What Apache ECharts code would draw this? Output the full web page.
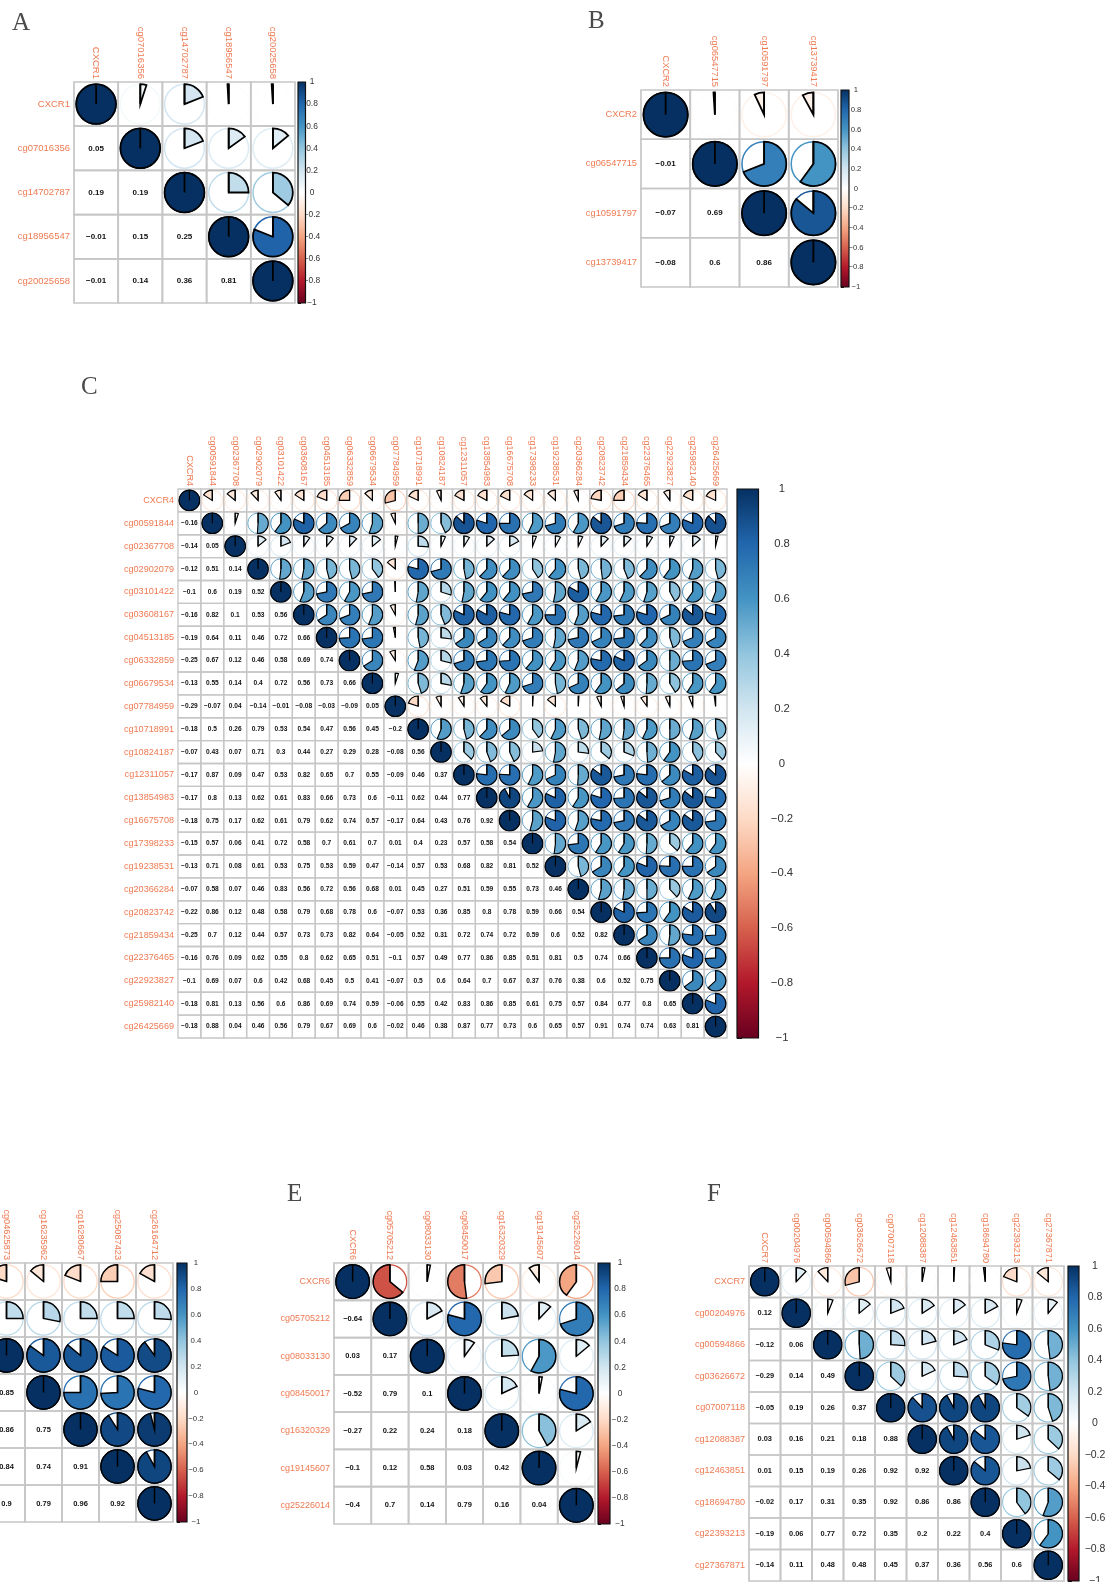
<!DOCTYPE html>
<html>
<head>
<meta charset="utf-8">
<script src="https://cdn.jsdelivr.net/npm/echarts@6/dist/echarts.min.js"></script>
<style>
  html, body { margin: 0; padding: 0; background: #ffffff; }
  #chart { width: 1107px; height: 1582px; }
</style>
</head>
<body>
<div id="chart"></div>
<script>
// ---- correlation data: variable names + lower-triangle coefficients (row i holds columns 0..i-1)

// A: CXCR1
const varsA = ['CXCR1', 'cg07016356', 'cg14702787', 'cg18956547', 'cg20025658'];
const lowerA = [
  [0.05],
  [0.19, 0.19],
  [-0.01, 0.15, 0.25],
  [-0.01, 0.14, 0.36, 0.81]
];

// B: CXCR2
const varsB = ['CXCR2', 'cg06547715', 'cg10591797', 'cg13739417'];
const lowerB = [
  [-0.01],
  [-0.07, 0.69],
  [-0.08, 0.6, 0.86]
];

// C: CXCR4
const varsC = ['CXCR4', 'cg00591844', 'cg02367708', 'cg02902079', 'cg03101422', 'cg03608167',
  'cg04513185', 'cg06332859', 'cg06679534', 'cg07784959', 'cg10718991', 'cg10824187',
  'cg12311057', 'cg13854983', 'cg16675708', 'cg17398233', 'cg19238531', 'cg20366284',
  'cg20823742', 'cg21859434', 'cg22376465', 'cg22923827', 'cg25982140', 'cg26425669'];
const lowerC = [
  [-0.16],
  [-0.14, 0.05],
  [-0.12, 0.51, 0.14],
  [-0.1, 0.6, 0.19, 0.52],
  [-0.16, 0.82, 0.1, 0.53, 0.56],
  [-0.19, 0.64, 0.11, 0.46, 0.72, 0.66],
  [-0.25, 0.67, 0.12, 0.46, 0.58, 0.69, 0.74],
  [-0.13, 0.55, 0.14, 0.4, 0.72, 0.56, 0.73, 0.66],
  [-0.29, -0.07, 0.04, -0.14, -0.01, -0.08, -0.03, -0.09, 0.05],
  [-0.18, 0.5, 0.26, 0.79, 0.53, 0.54, 0.47, 0.56, 0.45, -0.2],
  [-0.07, 0.43, 0.07, 0.71, 0.3, 0.44, 0.27, 0.29, 0.28, -0.08, 0.56],
  [-0.17, 0.87, 0.09, 0.47, 0.53, 0.82, 0.65, 0.7, 0.55, -0.09, 0.46, 0.37],
  [-0.17, 0.8, 0.13, 0.62, 0.61, 0.83, 0.66, 0.73, 0.6, -0.11, 0.62, 0.44, 0.77],
  [-0.18, 0.75, 0.17, 0.62, 0.61, 0.79, 0.62, 0.74, 0.57, -0.17, 0.64, 0.43, 0.76, 0.92],
  [-0.15, 0.57, 0.06, 0.41, 0.72, 0.58, 0.7, 0.61, 0.7, 0.01, 0.4, 0.23, 0.57, 0.58, 0.54],
  [-0.13, 0.71, 0.08, 0.61, 0.53, 0.75, 0.53, 0.59, 0.47, -0.14, 0.57, 0.53, 0.68, 0.82, 0.81, 0.52],
  [-0.07, 0.58, 0.07, 0.46, 0.83, 0.56, 0.72, 0.56, 0.68, 0.01, 0.45, 0.27, 0.51, 0.59, 0.55, 0.73, 0.46],
  [-0.22, 0.86, 0.12, 0.48, 0.58, 0.79, 0.68, 0.78, 0.6, -0.07, 0.53, 0.36, 0.85, 0.8, 0.78, 0.59, 0.66, 0.54],
  [-0.25, 0.7, 0.12, 0.44, 0.57, 0.73, 0.73, 0.82, 0.64, -0.05, 0.52, 0.31, 0.72, 0.74, 0.72, 0.59, 0.6, 0.52, 0.82],
  [-0.16, 0.76, 0.09, 0.62, 0.55, 0.8, 0.62, 0.65, 0.51, -0.1, 0.57, 0.49, 0.77, 0.86, 0.85, 0.51, 0.81, 0.5, 0.74, 0.66],
  [-0.1, 0.69, 0.07, 0.6, 0.42, 0.68, 0.45, 0.5, 0.41, -0.07, 0.5, 0.6, 0.64, 0.7, 0.67, 0.37, 0.76, 0.38, 0.6, 0.52, 0.75],
  [-0.18, 0.81, 0.13, 0.56, 0.6, 0.86, 0.69, 0.74, 0.59, -0.06, 0.55, 0.42, 0.83, 0.86, 0.85, 0.61, 0.75, 0.57, 0.84, 0.77, 0.8, 0.65],
  [-0.18, 0.88, 0.04, 0.46, 0.56, 0.79, 0.67, 0.69, 0.6, -0.02, 0.46, 0.38, 0.87, 0.77, 0.73, 0.6, 0.65, 0.57, 0.91, 0.74, 0.74, 0.63, 0.81]
];

// D: CXCR5
const varsD = ['CXCR5', 'cg10151590', 'cg04625873', 'cg16235962', 'cg16280667', 'cg25087423', 'cg26164712'];
const lowerD = [
  [0.1],
  [-0.2, 0.25],
  [-0.14, 0.28, 0.85],
  [-0.19, 0.25, 0.86, 0.75],
  [-0.25, 0.25, 0.84, 0.74, 0.91],
  [-0.17, 0.26, 0.9, 0.79, 0.96, 0.92]
];

// E: CXCR6
const varsE = ['CXCR6', 'cg05705212', 'cg08033130', 'cg08450017', 'cg16320329', 'cg19145607', 'cg25226014'];
const lowerE = [
  [-0.64],
  [0.03, 0.17],
  [-0.52, 0.79, 0.1],
  [-0.27, 0.22, 0.24, 0.18],
  [-0.1, 0.12, 0.58, 0.03, 0.42],
  [-0.4, 0.7, 0.14, 0.79, 0.16, 0.04]
];

// F: CXCR7
const varsF = ['CXCR7', 'cg00204976', 'cg00594866', 'cg03626672', 'cg07007118', 'cg12088387',
  'cg12463851', 'cg18694780', 'cg22393213', 'cg27367871'];
const lowerF = [
  [0.12],
  [-0.12, 0.06],
  [-0.29, 0.14, 0.49],
  [-0.05, 0.19, 0.26, 0.37],
  [0.03, 0.16, 0.21, 0.18, 0.88],
  [0.01, 0.15, 0.19, 0.26, 0.92, 0.92],
  [-0.02, 0.17, 0.31, 0.35, 0.92, 0.86, 0.86],
  [-0.19, 0.06, 0.77, 0.72, 0.35, 0.2, 0.22, 0.4],
  [-0.14, 0.11, 0.48, 0.48, 0.45, 0.37, 0.36, 0.56, 0.6]
];

// colour legend range
const legendMin = -1;
const legendMax = 1;
const legendStep = 0.2;

// ---- styling
const RDBU = ['#67001F', '#B2182B', '#D6604D', '#F4A582', '#FDDBC7', '#FFFFFF',
  '#D1E5F0', '#92C5DE', '#4393C3', '#2166AC', '#053061'];
const LABEL_COLOR = '#EE7A52';
const GRID_COLOR = '#C6C6C6';
const SANS = '"Liberation Sans", Arial, sans-serif';

const panels = [
  { letter: 'A', vars: varsA, lower: lowerA, left: 74, top: 82, size: 221,
    barLeft: 298, barWidth: 7.5, labelSize: 9.5, numSize: 8, barFont: 8.4, barGap: 6.5, tickLen: 3,
    titleX: 12, titleY: 11 },
  { letter: 'B', vars: varsB, lower: lowerB, left: 641, top: 90, size: 197,
    barLeft: 841, barWidth: 8, labelSize: 9.3, numSize: 8, barFont: 7.7, barGap: 7, tickLen: 3,
    titleX: 588, titleY: 9 },
  { letter: 'C', vars: varsC, lower: lowerC, left: 178, top: 489, size: 549,
    barLeft: 737, barWidth: 21.5, labelSize: 9.1, numSize: 6.6, barFont: 11.3, barGap: 23.5, tickLen: 5,
    titleX: 81, titleY: 375 },
  { letter: 'D', vars: varsD, lower: lowerD, left: -86, top: 1263, size: 259,
    barLeft: 177, barWidth: 10, labelSize: 9.2, numSize: 7.5, barFont: 7.8, barGap: 9, tickLen: 3,
    titleX: null, titleY: null },
  { letter: 'E', vars: varsE, lower: lowerE, left: 334, top: 1263, size: 261,
    barLeft: 598, barWidth: 12, labelSize: 9, numSize: 7.5, barFont: 8.3, barGap: 10, tickLen: 3,
    titleX: 287, titleY: 1182 },
  { letter: 'F', vars: varsF, lower: lowerF, left: 749, top: 1266, size: 315,
    barLeft: 1068, barWidth: 11, labelSize: 9.1, numSize: 7.4, barFont: 10.5, barGap: 16, tickLen: 4,
    titleX: 707, titleY: 1182 }
];

function hexToRgb(h) {
  return [parseInt(h.slice(1, 3), 16), parseInt(h.slice(3, 5), 16), parseInt(h.slice(5, 7), 16)];
}
function corrColor(v) {
  const t = (Math.max(-1, Math.min(1, v)) + 1) / 2 * (RDBU.length - 1);
  const i = Math.min(Math.floor(t), RDBU.length - 2);
  const f = t - i;
  const a = hexToRgb(RDBU[i]), b = hexToRgb(RDBU[i + 1]);
  const c = a.map((x, k) => Math.round(x + (b[k] - x) * f));
  return 'rgb(' + c.join(',') + ')';
}
function fmtNum(v) {
  const r = Math.round(v * 100) / 100;
  return r < 0 ? '\u2212' + String(Math.abs(r)) : String(r);
}
function fmtTick(v) {
  const r = Math.round(v * 10) / 10;
  if (r === 0) return '0';
  return r < 0 ? '\u2212' + String(Math.abs(r)) : String(r);
}
function fullMatrix(vars, lower) {
  const n = vars.length;
  const m = [];
  for (let i = 0; i < n; i++) { m.push(new Array(n).fill(1)); }
  for (let i = 1; i < n; i++) {
    for (let j = 0; j < i; j++) { m[i][j] = lower[i - 1][j]; m[j][i] = lower[i - 1][j]; }
  }
  return m;
}

function cellRenderer(p) {
  return function (params, api) {
    const col = api.value(0), row = api.value(1), v = api.value(2);
    const pt = api.coord([col, row]);
    const sz = api.size([1, 1]);
    const w = sz[0], h = sz[1];
    const cell = Math.min(w, h);
    const children = [{
      type: 'rect',
      shape: { x: pt[0] - w / 2, y: pt[1] - h / 2, width: w, height: h },
      style: { fill: 'none', stroke: GRID_COLOR, lineWidth: cell > 30 ? 1.7 : 1.3 }
    }];
    if (col >= row) {
      const rad = cell * 0.45;
      const color = corrColor(v);
      const lw = Math.max(1.15, Math.min(1.8, cell * 0.04));
      const a0 = -Math.PI / 2;
      const span = 2 * Math.PI * Math.abs(v);
      children.push({
        type: 'circle', shape: { cx: pt[0], cy: pt[1], r: rad },
        style: { fill: 'none', stroke: color, lineWidth: lw * 0.85 }
      });
      children.push({
        type: 'sector',
        shape: { cx: pt[0], cy: pt[1], r0: 0, r: rad, startAngle: a0,
          endAngle: v >= 0 ? a0 + span : a0 - span, clockwise: v >= 0 },
        style: { fill: color, stroke: '#000', lineWidth: lw }
      });
      children.push({
        type: 'line', shape: { x1: pt[0], y1: pt[1], x2: pt[0], y2: pt[1] - rad },
        style: { stroke: '#000', lineWidth: lw }
      });
    } else {
      children.push({
        type: 'text', x: pt[0], y: pt[1],
        style: { text: fmtNum(v), fill: '#111', align: 'center', verticalAlign: 'middle',
          font: 'bold ' + p.numSize + 'px ' + SANS }
      });
    }
    return { type: 'group', children: children };
  };
}

function barRenderer(params, api) {
  const a = api.coord([0, legendMax]);
  const b = api.coord([1, legendMin]);
  const stops = RDBU.slice().reverse().map((c, i) => ({ offset: i / (RDBU.length - 1), color: c }));
  return {
    type: 'rect',
    shape: { x: a[0], y: a[1], width: b[0] - a[0], height: b[1] - a[1] },
    style: {
      fill: new echarts.graphic.LinearGradient(0, 0, 0, 1, stops),
      stroke: '#111', lineWidth: 1.2
    }
  };
}

const grids = [], xAxes = [], yAxes = [], series = [], titles = [];
panels.forEach((p, k) => {
  const mGrid = 2 * k, bGrid = 2 * k + 1;
  grids.push({ left: p.left, top: p.top, width: p.size, height: p.size,
    containLabel: false, outerBoundsMode: 'none' });
  grids.push({ left: p.barLeft, top: p.top, width: p.barWidth, height: p.size,
    containLabel: false, outerBoundsMode: 'none' });
  const lab = { color: LABEL_COLOR, fontSize: p.labelSize, fontFamily: SANS, interval: 0 };
  xAxes.push({
    type: 'category', gridIndex: mGrid, data: p.vars, position: 'top',
    axisLine: { show: false }, axisTick: { show: false }, splitLine: { show: false },
    axisLabel: Object.assign({ rotate: 90, margin: 3 }, lab)
  });
  yAxes.push({
    type: 'category', gridIndex: mGrid, data: p.vars, inverse: true,
    axisLine: { show: false }, axisTick: { show: false }, splitLine: { show: false },
    axisLabel: Object.assign({ margin: 4 }, lab)
  });
  xAxes.push({ type: 'value', gridIndex: bGrid, min: 0, max: 1, show: false });
  yAxes.push({
    type: 'value', gridIndex: bGrid, min: legendMin, max: legendMax, interval: legendStep,
    position: 'right',
    axisLine: { show: false },
    axisTick: { show: true, length: p.tickLen, lineStyle: { color: '#111', width: 1 } },
    splitLine: { show: false },
    axisLabel: { margin: p.barGap, align: 'center', color: '#333', fontSize: p.barFont,
      fontFamily: SANS, formatter: fmtTick }
  });
  const m = fullMatrix(p.vars, p.lower);
  const data = [];
  for (let r = 0; r < p.vars.length; r++) {
    for (let c = 0; c < p.vars.length; c++) { data.push([c, r, m[r][c]]); }
  }
  series.push({
    type: 'custom', xAxisIndex: mGrid, yAxisIndex: mGrid, data: data,
    encode: { x: 0, y: 1 }, renderItem: cellRenderer(p), silent: true, animation: false
  });
  series.push({
    type: 'custom', xAxisIndex: bGrid, yAxisIndex: bGrid, data: [[0, 0]],
    renderItem: barRenderer, silent: true, animation: false
  });
  if (p.titleX !== null) {
    titles.push({
      text: p.letter, left: p.titleX, top: p.titleY, padding: 0,
      textStyle: { fontFamily: '"Liberation Serif", "DejaVu Serif", serif', fontWeight: 'normal',
        fontSize: 25, color: '#4a4a4a' }
    });
  }
});

const chart = echarts.init(document.getElementById('chart'), null, { renderer: 'canvas' });
chart.setOption({
  backgroundColor: '#ffffff',
  animation: false,
  title: titles,
  grid: grids,
  xAxis: xAxes,
  yAxis: yAxes,
  series: series
});
</script>
</body>
</html>
